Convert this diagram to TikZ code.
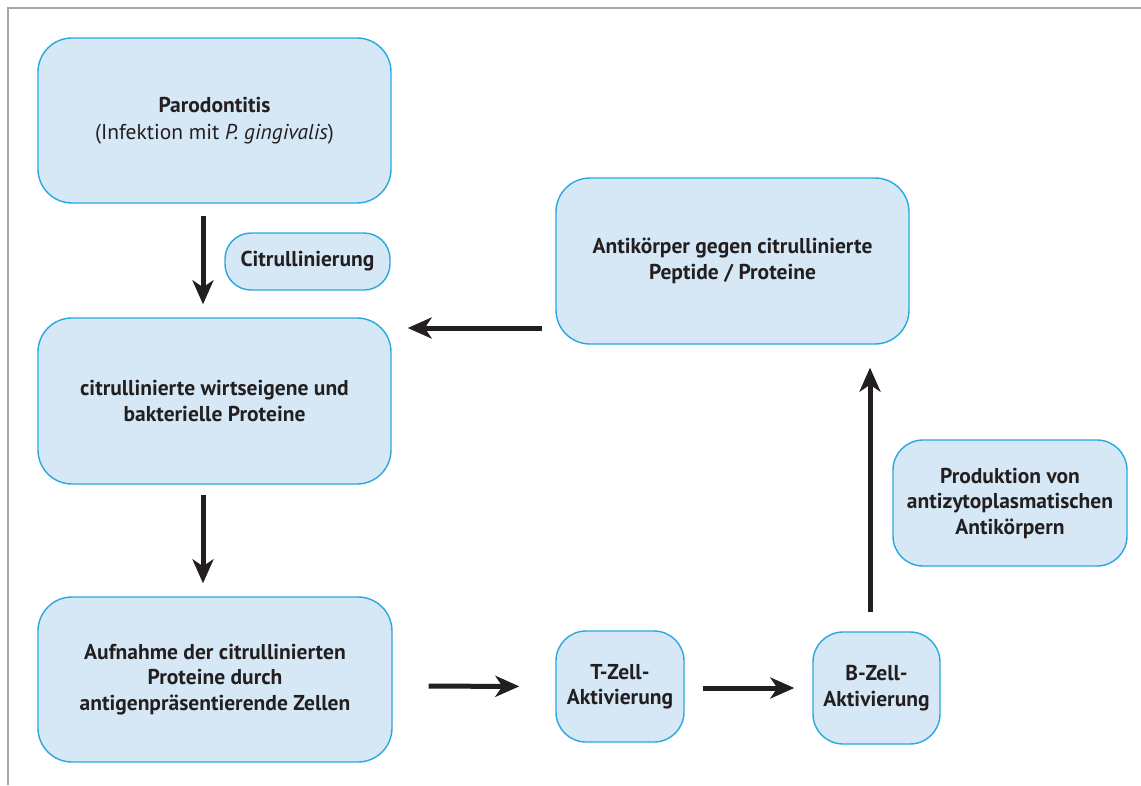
\documentclass[tikz,border=0pt]{standalone}
\usepackage{fontspec}
\setmainfont{PT Sans}
\definecolor{boxfill}{RGB}{214, 232, 245}
\definecolor{boxline}{RGB}{41, 168, 224}
\definecolor{ink}{RGB}{35, 31, 32}
\usetikzlibrary{arrows.meta, positioning}

\begin{document}
\begin{tikzpicture}[x=1pt, y=-1pt,
    every node/.style={font=\fontsize{21.5}{25.5}\selectfont\bfseries, text=ink, align=center},
    box/.style={draw=boxline, line width=1.4pt, fill=boxfill, rounded corners=34pt, inner sep=0pt},
    arr/.style={-{Stealth[length=24pt, width=21pt, inset=7pt]}, line width=5pt, ink}]
            \useasboundingbox (0,0) rectangle (1141,785);
            \draw[gray!70, line width=1.5pt] (8,785) -- (8,8) -- (1141,8);
            % linke Spalte
            \node[box, minimum width=353pt, minimum height=165pt] (paro) at (214.5,120.5) {Parodontitis\\[1pt]{\mdseries (Infektion mit \textit{P. gingivalis})}};
            \node[box, rounded corners=26pt, minimum width=165pt, minimum height=57pt] (citr) at (307.5,261.5) {Citrullinierung};
            \node[box, minimum width=353pt, minimum height=166pt] (citprot) at (214.5,401) {citrullinierte wirtseigene und\\bakterielle Proteine};
            \node[box, minimum width=354pt, minimum height=165pt] (aufn) at (215,679.5) {Aufnahme der citrullinierten\\Proteine durch\\antigenpr\"asentierende Zellen};
            % untere Reihe und rechte Spalte
            \node[box, rounded corners=30pt, minimum width=128pt, minimum height=111pt] (tzell) at (620,686.5) {T-Zell-\\Aktivierung};
            \node[box, rounded corners=30pt, minimum width=127pt, minimum height=112pt] (bzell) at (876.5,688) {B-Zell-\\Aktivierung};
            \node[box, rounded corners=30pt, minimum width=234pt, minimum height=126pt] (prod) at (1010,503) {Produktion von\\antizytoplasmatischen\\Antik\"orpern};
            \node[box, minimum width=353pt, minimum height=166pt] (antik) at (732.5,261) {Antik\"orper gegen citrullinierte\\Peptide / Proteine};
            % Pfeile
            \draw[arr, shorten <=12pt, shorten >=13pt] ([xshift=-11.5pt]paro.south) -- ([xshift=-11.5pt]citprot.north);
            \draw[arr, shorten <=10pt, shorten >=13pt] ([xshift=-11.5pt]citprot.south) -- ([xshift=-12pt]aufn.north);
            \draw[arr, shorten <=36pt, shorten >=36pt] ([yshift=-6.5pt]aufn.east) -- (tzell.west);
            \draw[arr, shorten <=18pt, shorten >=18pt] ([yshift=-1.5pt]tzell.east) -- (bzell.west);
            \draw[arr, shorten <=19pt, shorten >=23pt] ([xshift=-6.5pt]bzell.north) -- ([xshift=-6.5pt]bzell.north |- antik.south);
            \draw[arr, shorten <=13pt, shorten >=16pt] ([yshift=-67pt]antik.west) -- ([yshift=73pt]citprot.east);
        \end{tikzpicture}
\end{document}
